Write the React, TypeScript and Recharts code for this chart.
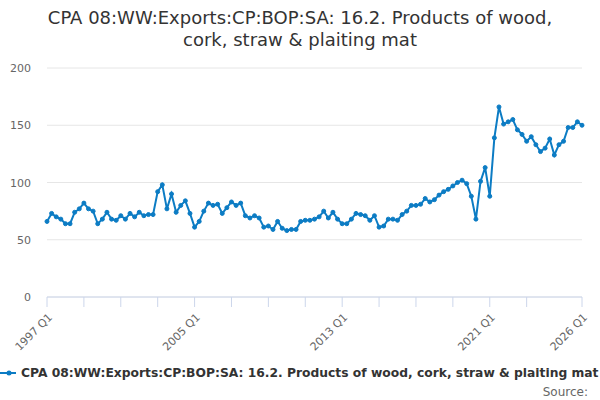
import React from "react"
import { CartesianGrid, Line, LineChart, XAxis, YAxis } from "recharts"

const title = "CPA 08:WW:Exports:CP:BOP:SA: 16.2. Products of wood, cork, straw & plaiting mat"

// quarterly, 1997 Q1 .. 2026 Q1
const firstYear = 1997
const values = [
  66, 73, 70, 68, 64, 64, 74, 77, 82, 77, 75, 64, 68, 74, 68, 67, 71, 68, 73, 70,
  74, 71, 72, 72, 92, 98, 77, 90, 74, 80, 84, 73, 61, 66, 75, 82, 80, 81, 73, 78,
  83, 80, 82, 71, 69, 71, 69, 61, 62, 59, 66, 60, 58, 59, 59, 66, 67, 67, 68, 70,
  75, 69, 74, 68, 64, 64, 68, 73, 72, 71, 67, 71, 61, 62, 68, 68, 67, 72, 75, 80,
  80, 81, 86, 83, 85, 89, 92, 94, 97, 100, 102, 99, 88, 68, 101, 113, 88, 139, 166, 151,
  153, 155, 146, 142, 136, 140, 133, 127, 130, 138, 124, 133, 136, 148, 148, 153, 150,
]

const xTicks = [0, 8, 16, 24, 32, 40, 48, 56, 64, 72, 80, 88, 96, 104, 116]
const xLabelled = [0, 32, 64, 96, 116]
const yTicks = [0, 50, 100, 150, 200]

const data = values.map((v, i) => ({ i, value: v }))

const quarterLabel = (i: number) => `${firstYear + Math.floor(i / 4)} Q${(i % 4) + 1}`

const font = "'DejaVu Sans', sans-serif"
const blue = "#0c7cc4"

function XTick(props: any) {
  const { x, payload } = props
  if (!xLabelled.includes(payload.value)) return null
  const ax = x + 6
  const ay = 318
  return (
    <text x={ax} y={ay} transform={`rotate(-45 ${ax} ${ay})`} textAnchor="end" fontSize={11} fill="#666" fontFamily={font}>
      {quarterLabel(payload.value)}
    </text>
  )
}

function YTick(props: any) {
  const { y, payload } = props
  return (
    <text x={31} y={y + 4} textAnchor="end" fontSize={11} fill="#666" fontFamily={font}>
      {payload.value}
    </text>
  )
}

export default function App() {
  return (
    <div style={{ position: "absolute", left: 0, top: 0, width: 600, height: 400, background: "#fff", fontFamily: font }}>
      <div style={{ position: "absolute", left: 45, right: 45, top: 7, textAlign: "center", fontSize: 18, lineHeight: "22px", color: "#333" }}>
        {title}
      </div>
      <LineChart width={600} height={400} data={data} margin={{ top: 68, right: 18, bottom: 73, left: 1 }}>
        <CartesianGrid vertical={false} stroke="#e6e6e6" />
        <YAxis
          domain={[0, 200]}
          ticks={yTicks}
          width={46}
          axisLine={false}
          tickLine={false}
          tick={<YTick />}
        />
        <XAxis
          type="number"
          dataKey="i"
          domain={[0, 116]}
          ticks={xTicks}
          interval={0}
          height={30}
          stroke="#ccd6eb"
          tickSize={10}
          tick={<XTick />}
        />
        <Line
          type="linear"
          dataKey="value"
          stroke={blue}
          strokeWidth={2}
          dot={{ r: 2, fill: blue, stroke: blue, strokeWidth: 1 }}
          isAnimationActive={false}
        />
      </LineChart>
      <div style={{ position: "absolute", left: 0, top: 365, width: 600, height: 16, overflow: "hidden", whiteSpace: "nowrap", display: "flex", alignItems: "center" }}>
        <svg width={20} height={14} style={{ flex: "none" }}>
          <line x1={0} y1={7} x2={16} y2={7} stroke={blue} strokeWidth={2} />
          <circle cx={9} cy={7} r={2.5} fill={blue} />
        </svg>
        <span style={{ fontSize: 12.3, fontWeight: "bold", color: "#333", marginLeft: 1 }}>{title}</span>
      </div>
      <div style={{ position: "absolute", right: 12, top: 385, fontSize: 12, color: "#666" }}>Source:</div>
    </div>
  )
}
